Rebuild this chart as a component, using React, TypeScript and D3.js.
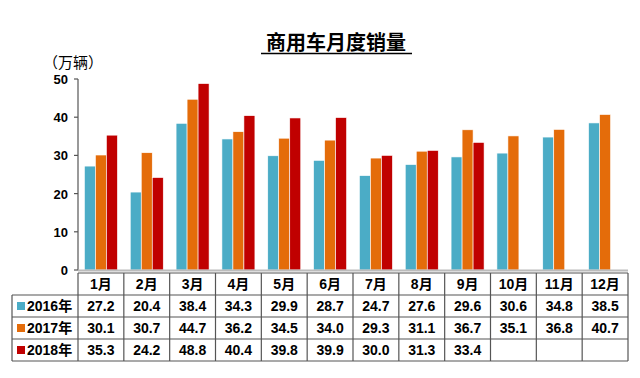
import React from "react";
import * as d3 from "d3";

const months = ["1月","2月","3月","4月","5月","6月","7月","8月","9月","10月","11月","12月"];
const seriesNames = ["2016年","2017年","2018年"];
const colors = ["#4BACC6","#E46C0A","#C00000"];
const s2016 = [27.2,20.4,38.4,34.3,29.9,28.7,24.7,27.6,29.6,30.6,34.8,38.5];
const s2017 = [30.1,30.7,44.7,36.2,34.5,34.0,29.3,31.1,36.7,35.1,36.8,40.7];
const s2018: (number|null)[] = [35.3,24.2,48.8,40.4,39.8,39.9,30.0,31.3,33.4,null,null,null];
const yTicks = [0,10,20,30,40,50];

export default function App() {
  const W = 640, H = 378;
  const left = 78, right = 628;
  const yTop = 79, yBot = 270;
  const x0 = d3.scaleBand<string>().domain(months).range([left, right]).padding(0);
  const groupW = 33;
  const x1 = d3.scaleBand<string>().domain(seriesNames).range([0, groupW]).padding(0);
  const y = d3.scaleLinear().domain([0, 50]).range([yBot, yTop]);
  const data = [s2016, s2017, s2018];
  const off = (x0.bandwidth() - groupW) / 2;
  const tableTop = 273, rowH = 22;
  const font = "Arial, 'Liberation Sans', 'Noto Sans CJK SC', sans-serif";
  const fmt = (v: number | null) => (v == null ? "" : v.toFixed(1));
  return (
    <svg width={W} height={H} style={{ position: "absolute", left: 0, top: 0, background: "#fff" }}>
      <text x={336} y={50} textAnchor="middle" fontSize={20} fontWeight="bold"
        fontFamily="'Noto Sans CJK SC', sans-serif" fill="#000">商用车月度销量</text>
      <line x1={261} x2={412} y1={53.5} y2={53.5} stroke="#000" strokeWidth={1.3} />
      <text x={43} y={68} fontSize={15} fontFamily="'Noto Sans CJK SC', sans-serif" fill="#000">（万辆）</text>
      {/* bars */}
      {data.map((s, si) =>
        s.map((v, mi) => v == null ? null : (
          <rect key={`${si}-${mi}`}
            x={(x0(months[mi]) as number) + off + (x1(seriesNames[si]) as number)}
            y={y(v)} width={x1.bandwidth()} height={yBot - y(v)}
            fill={colors[si]} stroke="#fff" strokeWidth={0.6} />
        ))
      )}
      {/* y axis */}
      <line x1={left} x2={left} y1={yTop} y2={yBot} stroke="#555" strokeWidth={1.2} />
      {yTicks.map(t => (
        <g key={t}>
          <line x1={left - 4} x2={left} y1={y(t)} y2={y(t)} stroke="#555" strokeWidth={1.2} />
          <text x={68} y={y(t)} dy="0.38em" textAnchor="end" fontSize={13} fontWeight="bold" fontFamily={font}>{t}</text>
        </g>
      ))}
      <line x1={left} x2={right} y1={yBot + 0.5} y2={yBot + 0.5} stroke="#bbb" strokeWidth={2} />
      {/* table */}
      <g fontFamily={font} fontSize={14} fontWeight="bold" fill="#000">
        {months.map(m => (
          <text key={m} x={(x0(m) as number) + x0.bandwidth() / 2} y={tableTop + rowH / 2} dy="0.36em" textAnchor="middle">{m}</text>
        ))}
        {data.map((s, si) => (
          <g key={si}>
            <rect x={17} y={tableTop + rowH * (si + 1) + 7} width={8} height={8} fill={colors[si]} />
            <text x={27} y={tableTop + rowH * (si + 1.5)} dy="0.36em">{seriesNames[si]}</text>
            {s.map((v, mi) => (
              <text key={mi} x={(x0(months[mi]) as number) + x0.bandwidth() / 2} y={tableTop + rowH * (si + 1.5)} dy="0.36em" textAnchor="middle">{fmt(v)}</text>
            ))}
          </g>
        ))}
      </g>
      <g stroke="#555" strokeWidth={1.2} fill="none">
        <line x1={left} x2={right} y1={tableTop} y2={tableTop} />
        {[1, 2, 3, 4].map(r => (
          <line key={r} x1={12} x2={right} y1={tableTop + rowH * r} y2={tableTop + rowH * r} />
        ))}
        <line x1={12} x2={12} y1={tableTop + rowH} y2={tableTop + rowH * 4} />
        {months.map((m) => (
          <line key={m} x1={x0(m) as number} x2={x0(m) as number} y1={tableTop} y2={tableTop + rowH * 4} />
        ))}
        <line x1={right} x2={right} y1={tableTop} y2={tableTop + rowH * 4} />
      </g>
    </svg>
  );
}
